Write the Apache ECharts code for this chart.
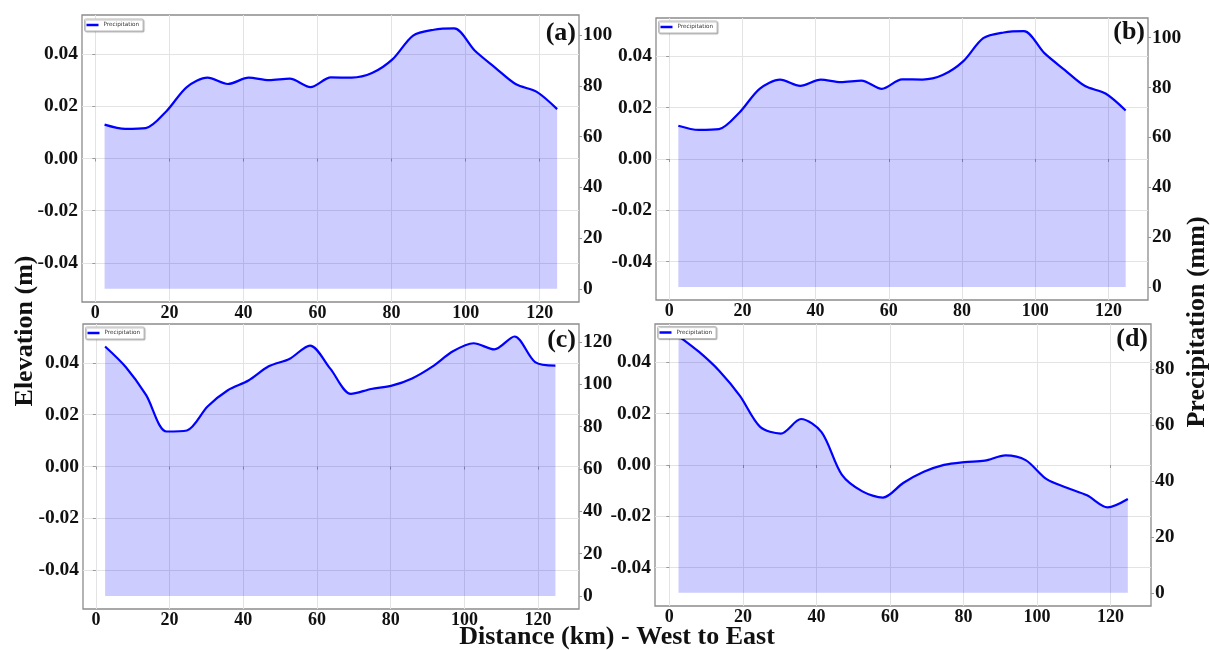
<!DOCTYPE html>
<html>
<head>
<meta charset="utf-8">
<script src="https://cdn.jsdelivr.net/npm/echarts@6/dist/echarts.min.js"></script>
<style>
  html, body { margin: 0; padding: 0; background: #fff; }
  #chart { width: 1210px; height: 650px; }
</style>
</head>
<body>
<div id="chart"></div>
<script>
// distance along the transect (km)
var distKm = [2.5, 8.1, 13.6, 19.2, 24.7, 30.3, 35.8, 41.4, 46.9, 52.5, 58.1, 63.6,
              69.2, 74.7, 80.3, 85.8, 91.4, 96.9, 102.5, 108.1, 113.6, 119.2, 124.7];

// precipitation (mm) for each panel
var precipA = [64.7, 63.0, 63.3, 70.0, 79.5, 83.2, 80.7, 83.2, 82.2, 82.8, 79.5, 83.3,
               83.2, 85.0, 90.5, 99.8, 102.1, 102.6, 93.8, 87.0, 80.6, 77.6, 70.8];
var precipB = [64.7, 63.0, 63.3, 70.0, 79.5, 83.2, 80.7, 83.2, 82.2, 82.8, 79.5, 83.3,
               83.2, 85.0, 90.5, 99.8, 102.1, 102.6, 93.8, 87.0, 80.6, 77.6, 70.8];
var precipC = [117.9, 108.2, 95.0, 77.7, 78.2, 89.5, 97.2, 101.8, 108.5, 112.0, 118.3, 107.4,
               95.5, 97.8, 99.4, 102.8, 108.5, 115.6, 119.4, 116.5, 122.6, 110.5, 108.8];
var precipD = [91.9, 86.2, 79.4, 70.5, 59.4, 57.0, 62.2, 57.5, 42.3, 36.3, 34.1, 39.3,
               43.3, 45.8, 46.8, 47.3, 49.2, 47.5, 40.8, 37.6, 34.9, 30.6, 33.6];

// tick labels
var distTicks = [0, 20, 40, 60, 80, 100, 120];
var elevTicks = [-0.04, -0.02, 0, 0.02, 0.04];
var precipTicksAB = [0, 20, 40, 60, 80, 100];
var precipTicksC = [0, 20, 40, 60, 80, 100, 120];
var precipTicksD = [0, 20, 40, 60, 80];
var panelNames = ['(a)', '(b)', '(c)', '(d)'];

var myChart = echarts.init(document.getElementById('chart'));

// frame of each sub plot (px) and its axis ranges
var panels = [
  { left: 82, top: 15, width: 497, height: 287, xMin: -3.6, xMax: 130.6,
    pMin: -5.2, pMax: 107.9, pTicks: precipTicksAB, values: precipA, labelY: 33.5, legTop: 19 },
  { left: 656, top: 18, width: 492, height: 282, xMin: -3.6, xMax: 130.8,
    pMin: -5.2, pMax: 107.9, pTicks: precipTicksAB, values: precipB, labelY: 32.5, legTop: 21 },
  { left: 83, top: 324, width: 496, height: 285, xMin: -3.5, xMax: 131.1,
    pMin: -6.15, pMax: 128.5, pTicks: precipTicksC, values: precipC, labelY: 340, legTop: 327 },
  { left: 655, top: 324, width: 496, height: 282, xMin: -3.9, xMax: 131,
    pMin: -4.7, pMax: 96.2, pTicks: precipTicksD, values: precipD, labelY: 339, legTop: 326.5 }
];

var tickFont = { color: '#111', fontFamily: 'Liberation Serif', fontWeight: 'bold' };

var grid = [], xAxis = [], yAxis = [], series = [], legend = [], graphic = [];

panels.forEach(function (p, i) {
  grid.push({
    left: p.left, top: p.top, width: p.width, height: p.height,
    show: true, borderColor: '#8c8c8c', borderWidth: 1.3,
    backgroundColor: 'transparent', outerBoundsMode: 'none'
  });

  xAxis.push({
    type: 'value', gridIndex: i, min: p.xMin, max: p.xMax,
    axisLine: { show: false },
    axisTick: { show: true, length: 3, customValues: distTicks, lineStyle: { color: '#999' } },
    axisLabel: Object.assign({ customValues: distTicks, margin: 2, fontSize: 18 }, tickFont),
    splitLine: { show: true, lineStyle: { color: '#e3e3e3', width: 1 } }
  });

  // elevation axis (no data drawn on it)
  yAxis.push({
    type: 'value', gridIndex: i, position: 'left', min: -0.055, max: 0.055,
    axisLine: { show: false },
    axisTick: { show: true, length: 3, customValues: elevTicks, lineStyle: { color: '#999' } },
    axisLabel: Object.assign({
      customValues: elevTicks, margin: 4, fontSize: 19.5,
      formatter: function (v) { return v.toFixed(2); }
    }, tickFont),
    splitLine: { show: true, lineStyle: { color: '#e3e3e3', width: 1 } }
  });

  // precipitation axis
  yAxis.push({
    type: 'value', gridIndex: i, position: 'right', min: p.pMin, max: p.pMax,
    axisLine: { show: false },
    axisTick: { show: true, length: 3, customValues: p.pTicks, lineStyle: { color: '#999' } },
    axisLabel: Object.assign({ customValues: p.pTicks, margin: 4, fontSize: 19.5 }, tickFont),
    splitLine: { show: false }
  });

  series.push({
    name: 'Precipitation',
    type: 'line',
    xAxisIndex: i,
    yAxisIndex: 2 * i + 1,
    data: distKm.map(function (d, k) { return [d, p.values[k]]; }),
    smooth: 0.3,
    showSymbol: false,
    color: '#0000ff',
    lineStyle: { color: '#0000ff', width: 2.2 },
    areaStyle: { color: '#0000ff', opacity: 0.2 },
    z: 3
  });

  legend.push({
    data: [{ name: 'Precipitation', icon: 'rect' }],
    left: p.left + 2.5, top: p.legTop,
    itemWidth: 12, itemHeight: 2.5, itemGap: 0,
    padding: [3, 4, 3, 2],
    backgroundColor: '#fff', borderColor: '#bdbdbd', borderWidth: 1, borderRadius: 1,
    shadowColor: 'rgba(0,0,0,0.25)', shadowBlur: 1, shadowOffsetX: 1, shadowOffsetY: 1,
    textStyle: { fontSize: 5.7, color: '#333', fontFamily: 'DejaVu Sans' },
    selectedMode: false
  });

  graphic.push({
    type: 'text',
    x: p.left + p.width - 3, y: p.labelY,
    style: {
      text: panelNames[i], fill: '#111',
      font: 'bold 26px "Liberation Serif"',
      align: 'right', verticalAlign: 'middle',
      textAlign: 'right', textVerticalAlign: 'middle'
    },
    z: 10
  });
});

// shared axis titles
graphic.push({
  type: 'text', x: 25, y: 331, rotation: Math.PI / 2,
  style: { text: 'Elevation (m)', fill: '#111', font: 'bold 26px "Liberation Serif"',
           align: 'center', verticalAlign: 'middle', textAlign: 'center', textVerticalAlign: 'middle' }
});
graphic.push({
  type: 'text', x: 1197, y: 322, rotation: Math.PI / 2,
  style: { text: 'Precipitation (mm)', fill: '#111', font: 'bold 26px "Liberation Serif"',
           align: 'center', verticalAlign: 'middle', textAlign: 'center', textVerticalAlign: 'middle' }
});
graphic.push({
  type: 'text', x: 617, y: 637,
  style: { text: 'Distance (km) - West to East', fill: '#111', font: 'bold 26px "Liberation Serif"',
           align: 'center', verticalAlign: 'middle', textAlign: 'center', textVerticalAlign: 'middle' }
});

var option = {
  backgroundColor: '#fff',
  animation: false,
  grid: grid,
  xAxis: xAxis,
  yAxis: yAxis,
  legend: legend,
  series: series,
  graphic: graphic
};

myChart.setOption(option);
</script>
</body>
</html>
